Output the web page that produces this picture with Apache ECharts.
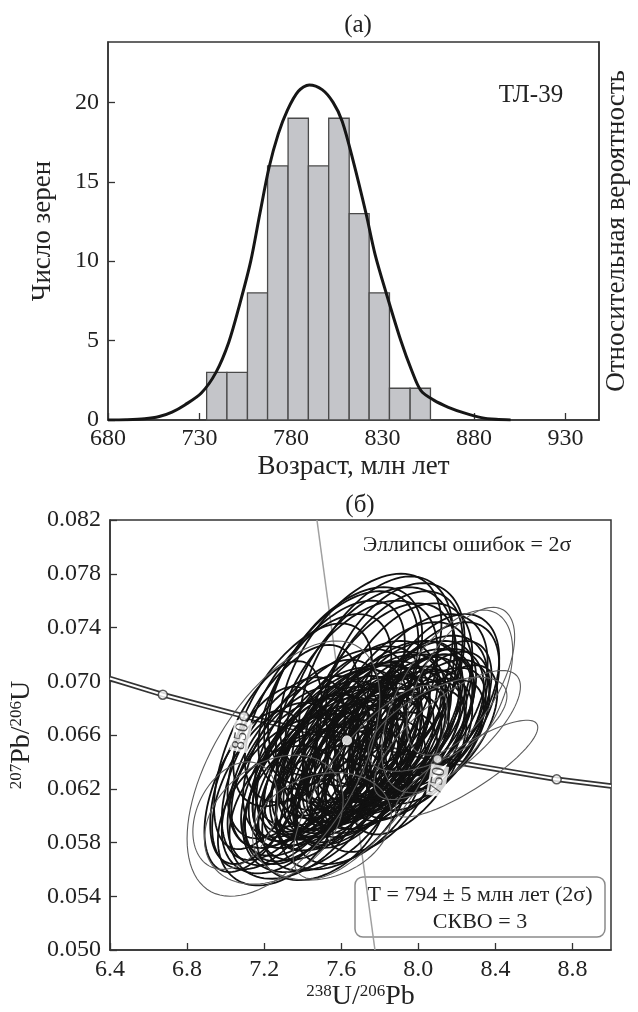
<!DOCTYPE html>
<html>
<head>
<meta charset="utf-8">
<script src="https://cdn.jsdelivr.net/npm/echarts@6/dist/echarts.min.js"></script>
<style>
  html, body { margin: 0; padding: 0; background: #fff; }
  #main { width: 638px; height: 1012px; }
</style>
</head>
<body>
<div id="main"></div>
<script>
// (а) гистограмма возрастов
var ageEdges = [733.9, 745.0, 756.2, 767.2, 778.4, 789.5, 800.6, 811.8, 822.7, 833.8, 845.1, 856.2];
var grainCounts = [3, 3, 8, 16, 19, 16, 19, 13, 8, 2, 2];
var curveAges = [680, 690, 700, 708, 715, 722, 731, 739, 746, 752, 758, 763, 768, 773, 778, 784, 790, 797, 803, 808, 814, 821, 826, 832, 840, 846, 851, 858, 866, 875, 884, 892, 900];
var curveValues = [0, 0.02, 0.08, 0.22, 0.5, 0.95, 1.7, 3.0, 4.9, 7.3, 10.0, 13.0, 15.9, 18.0, 19.5, 20.7, 21.1, 20.8, 20.0, 18.8, 16.3, 13.0, 10.4, 8.0, 5.0, 3.1, 1.85, 1.25, 0.8, 0.43, 0.15, 0.04, 0];
var peakAge = 790;

// (б) диаграмма с конкордией
var concordiaX = [6.4, 6.674, 7.095, 7.568, 8.10, 8.718, 9.0];
var concordiaY = [0.0702, 0.0690, 0.0674, 0.0658, 0.0642, 0.0627, 0.0622];
var markX = [6.674, 7.095, 8.10, 8.718];
var markY = [0.0690, 0.0674, 0.0642, 0.0627];
var markAgeLabels = ['850', '750'];
var markLabelX = [7.08, 8.10];
var markLabelY = [0.0659, 0.0626];
var concAgeX = 7.63, concAgeY = 0.0656;
var discordX = [7.474, 7.775];
var discordY = [0.082, 0.050];

// эллипсы ошибок: центр, полуширины (2σ), корреляция, тон (1 = серый)
var ellCx = [
    7.62, 7.70, 7.78, 7.85, 7.55, 7.92, 7.68, 7.48, 8.00, 7.80, 7.40, 7.75, 7.60, 7.88,
    7.42, 7.48, 7.52, 7.58, 7.62, 7.66, 7.70, 7.74, 7.78, 7.82, 7.86, 7.90, 7.45, 7.50, 7.55, 7.60, 7.64, 7.68,
    7.72, 7.76, 7.80, 7.84, 7.38, 7.35, 7.95, 7.98, 7.56, 7.64, 7.70, 7.58, 7.50, 7.76, 7.62, 7.44, 7.66, 7.82,
    7.48, 7.54, 7.60, 7.66, 7.72, 7.78, 7.84, 7.90, 7.96, 8.02, 7.52, 7.58, 7.64, 7.70, 7.76, 7.82, 7.88, 7.42, 7.36, 7.94,
    7.95, 8.00, 8.05, 8.10, 8.15, 7.98, 8.06, 8.12,
    7.32, 7.38, 7.25, 7.30, 7.45, 7.55, 7.62, 7.20, 7.28, 7.50, 7.70, 7.15, 7.22, 7.40, 7.80, 7.35,
    8.00, 8.05, 8.08, 7.95, 8.10, 7.90,
    7.30, 7.05, 7.75, 8.25, 8.15, 8.10, 8.22, 7.50, 7.25, 8.15];
var ellCy = [
    0.0700, 0.0705, 0.0700, 0.0695, 0.0690, 0.0690, 0.0685, 0.0680, 0.0685, 0.0680, 0.0675, 0.0690, 0.0695, 0.0705,
    0.0630, 0.0638, 0.0645, 0.0640, 0.0650, 0.0643, 0.0655, 0.0648, 0.0660, 0.0652, 0.0662, 0.0655, 0.0650, 0.0625, 0.0658, 0.0630, 0.0662, 0.0635,
    0.0668, 0.0638, 0.0645, 0.0670, 0.0640, 0.0625, 0.0668, 0.0650, 0.0635, 0.0640, 0.0645, 0.0652, 0.0642, 0.0655, 0.0658, 0.0636, 0.0628, 0.0640,
    0.0632, 0.0636, 0.0640, 0.0644, 0.0648, 0.0652, 0.0656, 0.0660, 0.0664, 0.0668, 0.0648, 0.0628, 0.0652, 0.0632, 0.0662, 0.0644, 0.0670, 0.0622, 0.0636, 0.0648,
    0.0658, 0.0668, 0.0662, 0.0672, 0.0666, 0.0676, 0.0655, 0.0680,
    0.0615, 0.0608, 0.0622, 0.0635, 0.0612, 0.0615, 0.0612, 0.0630, 0.0600, 0.0602, 0.0618, 0.0618, 0.0645, 0.0620, 0.0625, 0.0655,
    0.0672, 0.0660, 0.0680, 0.0640, 0.0690, 0.0678,
    0.0635, 0.0600, 0.0625, 0.0635, 0.0660, 0.0668, 0.0700, 0.0592, 0.0597, 0.0685];
var ellSx = [
    0.40, 0.42, 0.40, 0.38, 0.38, 0.36, 0.42, 0.38, 0.36, 0.40, 0.36, 0.44, 0.40, 0.36,
    0.34, 0.36, 0.38, 0.35, 0.38, 0.34, 0.36, 0.32, 0.36, 0.34, 0.35, 0.32, 0.36, 0.33, 0.40, 0.34, 0.38, 0.33,
    0.38, 0.32, 0.36, 0.38, 0.36, 0.34, 0.34, 0.30, 0.30, 0.30, 0.30, 0.30, 0.30, 0.30, 0.32, 0.30, 0.30, 0.30,
    0.33, 0.35, 0.34, 0.36, 0.34, 0.35, 0.33, 0.34, 0.33, 0.32, 0.36, 0.32, 0.37, 0.33, 0.36, 0.32, 0.35, 0.32, 0.33, 0.30,
    0.30, 0.28, 0.30, 0.27, 0.26, 0.32, 0.28, 0.26,
    0.34, 0.36, 0.32, 0.32, 0.36, 0.36, 0.34, 0.28, 0.32, 0.34, 0.34, 0.26, 0.28, 0.30, 0.30, 0.34,
    0.36, 0.32, 0.34, 0.30, 0.32, 0.38,
    0.50, 0.22, 0.40, 0.37, 0.38, 0.36, 0.28, 0.36, 0.36, 0.34];
var ellSy = [
    0.0070, 0.0075, 0.0078, 0.0072, 0.0070, 0.0068, 0.0075, 0.0070, 0.0065, 0.0078, 0.0068, 0.0080, 0.0072, 0.0068,
    0.0060, 0.0062, 0.0064, 0.0058, 0.0062, 0.0056, 0.0060, 0.0056, 0.0060, 0.0055, 0.0058, 0.0054, 0.0066, 0.0058, 0.0066, 0.0056, 0.0064, 0.0055,
    0.0062, 0.0054, 0.0058, 0.0060, 0.0064, 0.0062, 0.0056, 0.0052, 0.0052, 0.0050, 0.0050, 0.0052, 0.0054, 0.0050, 0.0054, 0.0055, 0.0052, 0.0050,
    0.0056, 0.0058, 0.0056, 0.0060, 0.0056, 0.0058, 0.0055, 0.0058, 0.0056, 0.0056, 0.0062, 0.0054, 0.0062, 0.0054, 0.0060, 0.0054, 0.0060, 0.0056, 0.0060, 0.0052,
    0.0050, 0.0052, 0.0048, 0.0050, 0.0046, 0.0054, 0.0046, 0.0050,
    0.0058, 0.0055, 0.0062, 0.0068, 0.0054, 0.0056, 0.0052, 0.0066, 0.0052, 0.0050, 0.0054, 0.0060, 0.0070, 0.0056, 0.0052, 0.0072,
    0.0062, 0.0056, 0.0064, 0.0054, 0.0060, 0.0066,
    0.0095, 0.0040, 0.0072, 0.0036, 0.0048, 0.0035, 0.0055, 0.0040, 0.0048, 0.0068];
var ellRho = [
    0.50, 0.50, 0.45, 0.50, 0.55, 0.45, 0.50, 0.55, 0.45, 0.50, 0.55, 0.45, 0.50, 0.40,
    0.55, 0.55, 0.60, 0.55, 0.60, 0.60, 0.55, 0.60, 0.55, 0.60, 0.50, 0.55, 0.55, 0.50, 0.55, 0.55, 0.55, 0.60,
    0.50, 0.60, 0.55, 0.50, 0.55, 0.50, 0.50, 0.55, 0.60, 0.60, 0.60, 0.60, 0.60, 0.55, 0.55, 0.55, 0.50, 0.55,
    0.60, 0.55, 0.60, 0.55, 0.60, 0.55, 0.60, 0.55, 0.55, 0.50, 0.55, 0.60, 0.55, 0.60, 0.50, 0.60, 0.50, 0.50, 0.55, 0.55,
    0.55, 0.50, 0.55, 0.50, 0.55, 0.50, 0.55, 0.50,
    0.45, 0.40, 0.50, 0.55, 0.40, 0.45, 0.45, 0.55, 0.35, 0.35, 0.50, 0.50, 0.55, 0.50, 0.50, 0.55,
    0.50, 0.55, 0.50, 0.55, 0.45, 0.50,
    0.55, 0.30, 0.75, 0.85, 0.75, 0.60, 0.60, 0.20, 0.30, 0.55];
var ellTone = [
    0, 0, 0, 0, 0, 0, 0, 0, 0, 0, 0, 0, 0, 0,
    0, 0, 0, 0, 0, 0, 0, 0, 0, 0, 0, 0, 0, 0, 0, 0, 0, 0,
    0, 0, 0, 0, 0, 0, 0, 0, 0, 0, 0, 0, 0, 0, 0, 0, 0, 0,
    0, 0, 0, 0, 0, 0, 0, 0, 0, 0, 0, 0, 0, 0, 0, 0, 0, 0, 0, 0,
    0, 0, 0, 0, 0, 0, 0, 0,
    0, 0, 0, 0, 0, 0, 0, 0, 0, 0, 0, 0, 0, 0, 0, 0,
    0, 0, 0, 0, 0, 0,
    1, 1, 1, 1, 1, 1, 1, 1, 1, 1];

var FONT = 'Liberation Serif';
var INK = '#222';

var chart = echarts.init(document.getElementById('main'));

var binData = grainCounts.map(function (c, i) { return [ageEdges[i], ageEdges[i + 1], c]; });
var curveData = curveAges.map(function (a, i) {
    var item = { value: [a, curveValues[i]] };
    if (a === peakAge) {
        item.label = { show: true, formatter: String(peakAge), position: 'top', distance: 3,
            fontFamily: FONT, fontSize: 23, color: INK };
    }
    return item;
});
var ellData = ellCx.map(function (x, i) { return [x, ellCy[i], ellSx[i], ellSy[i], ellRho[i], ellTone[i]]; });
var concData = concordiaX.map(function (x, i) { return [x, concordiaY[i]]; });
var markData = markX.map(function (x, i) { return [x, markY[i]]; });
var markLabelData = markAgeLabels.map(function (t, i) { return { value: [markLabelX[i], markLabelY[i]], name: t }; });
var discordData = discordX.map(function (x, i) { return [x, discordY[i]]; });

var supRich = {
    sup: { fontFamily: FONT, fontSize: 17, color: INK, verticalAlign: 'top', lineHeight: 28 },
    b: { fontFamily: FONT, fontSize: 28, color: INK, lineHeight: 28 }
};

function axisBase(extra) {
    var base = {
        type: 'value',
        axisLine: { show: true, lineStyle: { color: '#333', width: 1.5 } },
        axisTick: { show: true, inside: true, length: 7, lineStyle: { color: '#333', width: 1.3 } },
        splitLine: { show: false },
        axisLabel: { fontFamily: FONT, fontSize: 24, color: INK },
        nameTextStyle: { fontFamily: FONT, fontSize: 27, color: INK }
    };
    return Object.assign(base, extra);
}

var option = {
    backgroundColor: '#fff',
    animation: false,
    grid: [
        { left: 108, top: 42, width: 499, height: 378, show: true, borderColor: '#333', borderWidth: 1.5 },
        { left: 110, top: 520, width: 501, height: 430, show: true, borderColor: '#333', borderWidth: 1.5 }
    ],
    xAxis: [
        axisBase({
            gridIndex: 0, min: 680, max: 948.3, interval: 50,
            name: 'Возраст, млн лет', nameLocation: 'middle', nameGap: 33,
            axisLabel: { fontFamily: FONT, fontSize: 24, color: INK, margin: 7, showMaxLabel: false }
        }),
        axisBase({
            gridIndex: 1, min: 6.4, max: 9.0, interval: 0.4,
            name: '{sup|238}{b|U/}{sup|206}{b|Pb}', nameLocation: 'middle', nameGap: 33,
            nameTextStyle: { rich: supRich },
            axisLabel: { fontFamily: FONT, fontSize: 24, color: INK, margin: 8, showMaxLabel: false,
                formatter: function (v) { return v.toFixed(1); } }
        })
    ],
    yAxis: [
        axisBase({
            gridIndex: 0, min: 0, max: 23.8, interval: 5,
            name: 'Число зерен', nameLocation: 'middle', nameGap: 52,
            axisLabel: { fontFamily: FONT, fontSize: 24, color: INK, margin: 9, showMaxLabel: false }
        }),
        axisBase({
            gridIndex: 0, position: 'right', min: 0, max: 23.8,
            axisTick: { show: false }, axisLabel: { show: false },
            name: 'Относительная вероятность', nameLocation: 'middle', nameGap: 4
        }),
        axisBase({
            gridIndex: 1, min: 0.050, max: 0.082, interval: 0.004,
            name: '{sup|207}{b|Pb/}{sup|206}{b|U}', nameLocation: 'middle', nameGap: 64,
            nameTextStyle: { rich: supRich },
            axisLabel: { fontFamily: FONT, fontSize: 24, color: INK, margin: 9,
                formatter: function (v) { return v.toFixed(3); } }
        })
    ],
    graphic: [
        { type: 'text', x: 358, y: 25, style: { text: '(а)', fontFamily: FONT, fontSize: 25, fill: INK, align: 'center', verticalAlign: 'middle' } },
        { type: 'text', x: 360, y: 505, style: { text: '(б)', fontFamily: FONT, fontSize: 25, fill: INK, align: 'center', verticalAlign: 'middle' } },
        { type: 'text', x: 531, y: 95, style: { text: 'ТЛ-39', fontFamily: FONT, fontSize: 25, fill: INK, align: 'center', verticalAlign: 'middle' } },
        { type: 'text', x: 467, y: 545, z: 20, style: { text: 'Эллипсы ошибок = 2σ', fontFamily: FONT, fontSize: 22, fill: INK, align: 'center', verticalAlign: 'middle' } },
        {
            type: 'group', z: 20,
            children: [
                { type: 'rect', shape: { x: 355, y: 877, width: 250, height: 60, r: 8 },
                  style: { fill: '#fff', stroke: '#8a8a8a', lineWidth: 1.5 } },
                { type: 'text', x: 480, y: 895, style: { text: 'T = 794 ± 5 млн лет (2σ)', fontFamily: FONT, fontSize: 22, fill: INK, align: 'center', verticalAlign: 'middle' } },
                { type: 'text', x: 480, y: 922, style: { text: 'СКВО = 3', fontFamily: FONT, fontSize: 22, fill: INK, align: 'center', verticalAlign: 'middle' } }
            ]
        }
    ],
    series: [
        {
            type: 'custom', xAxisIndex: 0, yAxisIndex: 0, z: 2,
            encode: { x: [0, 1], y: 2 },
            data: binData,
            renderItem: function (params, api) {
                var p0 = api.coord([api.value(0), 0]);
                var p1 = api.coord([api.value(1), api.value(2)]);
                return {
                    type: 'rect',
                    shape: { x: p0[0], y: p1[1], width: p1[0] - p0[0], height: p0[1] - p1[1] },
                    style: { fill: '#c4c5c9', stroke: '#4a4a4a', lineWidth: 1.3 }
                };
            }
        },
        {
            type: 'line', xAxisIndex: 0, yAxisIndex: 0, z: 3,
            data: curveData, smooth: 0.3, showSymbol: false, symbol: 'none',
            lineStyle: { color: '#161616', width: 3 }
        },
        {
            type: 'line', xAxisIndex: 1, yAxisIndex: 2, z: 1,
            data: discordData, symbol: 'none',
            lineStyle: { color: '#a0a0a0', width: 1.5 }
        },
        {
            type: 'line', xAxisIndex: 1, yAxisIndex: 2, z: 1,
            data: concData, symbol: 'none',
            lineStyle: { color: '#333', width: 5.5 }
        },
        {
            type: 'line', xAxisIndex: 1, yAxisIndex: 2, z: 1,
            data: concData, symbol: 'none',
            lineStyle: { color: '#fff', width: 2 }
        },
        {
            type: 'custom', xAxisIndex: 1, yAxisIndex: 2, z: 3, clip: true,
            encode: { x: 0, y: 1 },
            data: ellData,
            renderItem: function (params, api) {
                var cx = api.value(0), cy = api.value(1), sx = api.value(2), sy = api.value(3);
                var rho = api.value(4), tone = api.value(5);
                var k = Math.sqrt(1 - rho * rho);
                var pts = [];
                for (var i = 0; i < 96; i++) {
                    var t = i / 96 * Math.PI * 2;
                    pts.push(api.coord([cx + sx * Math.cos(t), cy + sy * (rho * Math.cos(t) + k * Math.sin(t))]));
                }
                return {
                    type: 'polygon',
                    shape: { points: pts },
                    style: { fill: 'none', stroke: tone ? '#5c5c5c' : '#111', lineWidth: tone ? 1.1 : 1.8 }
                };
            }
        },
        {
            type: 'scatter', xAxisIndex: 1, yAxisIndex: 2, z: 6,
            data: markData, symbol: 'circle', symbolSize: 9,
            itemStyle: { color: '#fff', borderColor: '#333', borderWidth: 1.5 }
        },
        {
            type: 'scatter', xAxisIndex: 1, yAxisIndex: 2, z: 6,
            data: [[concAgeX, concAgeY]], symbol: 'circle', symbolSize: 9,
            itemStyle: { color: '#fff', borderColor: '#fff', borderWidth: 1 }
        },
        {
            type: 'scatter', xAxisIndex: 1, yAxisIndex: 2, z: 7,
            data: markLabelData, symbolSize: 0,
            label: {
                show: true, position: 'inside', rotate: 80, formatter: '{b}',
                fontFamily: FONT, fontSize: 18, color: INK,
                backgroundColor: '#fff', padding: [0, 2]
            }
        }
    ]
};

chart.setOption(option);
</script>
</body>
</html>
